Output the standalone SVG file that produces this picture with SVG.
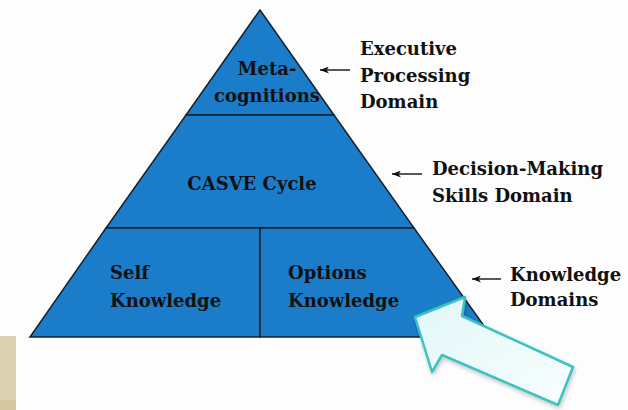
<svg xmlns="http://www.w3.org/2000/svg" width="628" height="410" viewBox="0 0 628 410">
<defs>
<style>
.t{font-family:"DejaVu Serif","Liberation Serif",serif;font-weight:bold;font-size:18px;fill:#111}
.sec{fill:#1b7dc9;stroke:#14202c;stroke-width:1.5}
.ln{stroke:#111;stroke-width:1.4;fill:none}
</style>
<marker id="ah" markerWidth="9" markerHeight="7" refX="9" refY="3.5" orient="auto" markerUnits="userSpaceOnUse">
<path d="M0,0 L9,3.5 L0,7 L2.5,3.5 Z" fill="#111"/>
</marker>
<linearGradient id="ag" x1="0" y1="0" x2="1" y2="1">
<stop offset="0" stop-color="#e2f7f8"/>
<stop offset="1" stop-color="#f8fefe"/>
</linearGradient>
<filter id="sh" x="-20%" y="-20%" width="140%" height="140%">
<feGaussianBlur in="SourceAlpha" stdDeviation="2"/>
<feOffset dx="1" dy="2"/>
<feComponentTransfer><feFuncA type="linear" slope="0.25"/></feComponentTransfer>
<feMerge><feMergeNode/><feMergeNode in="SourceGraphic"/></feMerge>
</filter>
</defs>
<rect width="628" height="410" fill="#fdfdfd"/>
<rect x="0" y="336" width="16" height="64" fill="#dcd2b2"/>
<rect x="0" y="400" width="16" height="10" fill="#d4c9a2"/>

<g id="meta">
<polygon class="sec" points="260,10 334,115 186,115"/>
<text class="t" x="267" y="75" text-anchor="middle">Meta-</text>
<text class="t" x="267" y="102" text-anchor="middle">cognitions</text>
</g>
<g id="casve">
<polygon class="sec" points="186,115 334,115 414,228 106,228"/>
<text class="t" x="252" y="190" text-anchor="middle">CASVE Cycle</text>
</g>
<g id="self">
<polygon class="sec" points="106,228 260,228 260,337 30,337"/>
<text class="t" x="110" y="279">Self</text>
<text class="t" x="110" y="307">Knowledge</text>
</g>
<g id="options">
<polygon class="sec" points="260,228 414,228 492,337 260,337"/>
<text class="t" x="288" y="279">Options</text>
<text class="t" x="288" y="307">Knowledge</text>
</g>

<g id="connectors">
<line class="ln" x1="350" y1="70" x2="320" y2="70" marker-end="url(#ah)"/>
<line class="ln" x1="422" y1="174" x2="392" y2="174" marker-end="url(#ah)"/>
<line class="ln" x1="501" y1="279" x2="472" y2="279" marker-end="url(#ah)"/>
</g>

<g id="label-exec">
<text class="t" x="360" y="55">Executive</text>
<text class="t" x="360" y="82">Processing</text>
<text class="t" x="360" y="108">Domain</text>
</g>
<g id="label-decision">
<text class="t" x="432" y="175">Decision-Making</text>
<text class="t" x="432" y="202">Skills Domain</text>
</g>
<g id="label-knowledge">
<text class="t" x="510" y="281">Knowledge</text>
<text class="t" x="510" y="306">Domains</text>
</g>

<g id="highlight-arrow">
<polygon points="415,317 465,297 462,316 573,367 558,405 442,355 432,372" fill="url(#ag)" stroke="#3cc2c4" stroke-width="2.5" stroke-linejoin="round" filter="url(#sh)"/>
</g>
</svg>
